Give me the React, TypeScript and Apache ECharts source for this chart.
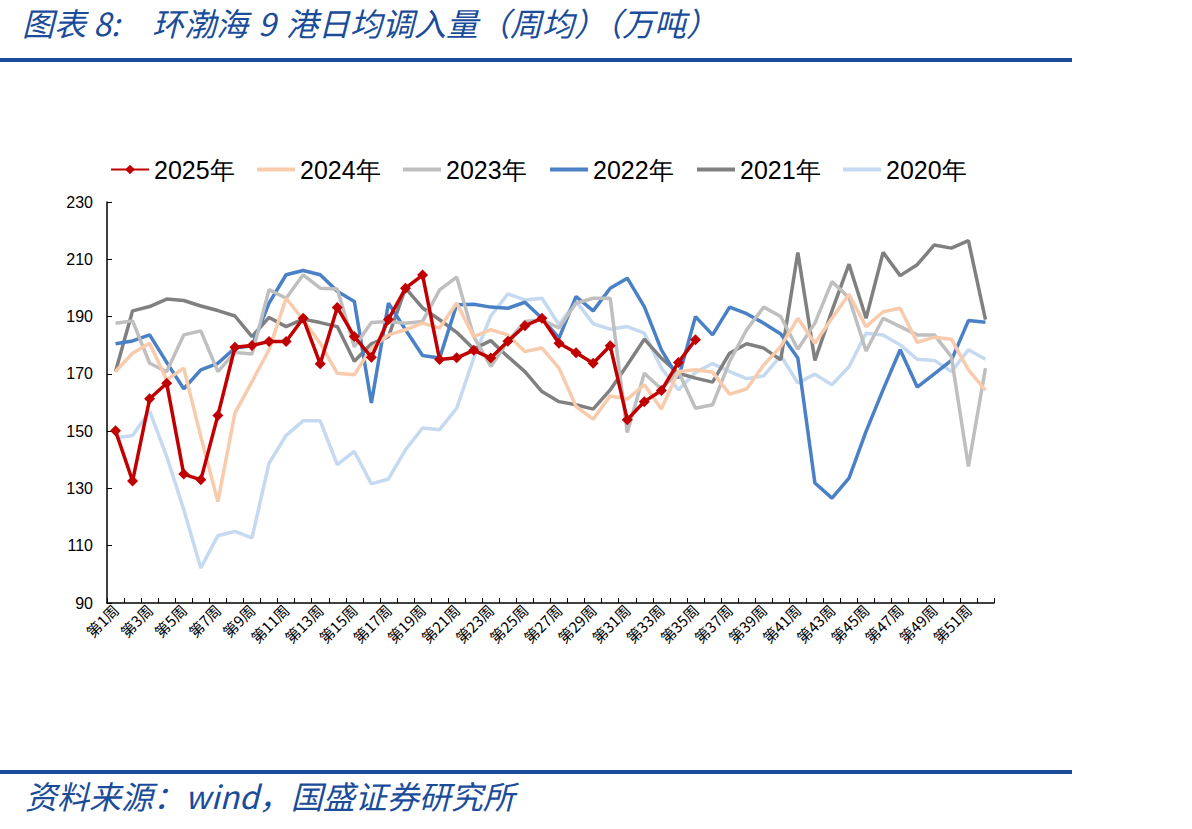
import React, { useEffect, useRef } from "react";
import * as echarts from "echarts";

const weeks: string[] = Array.from({ length: 52 }, (_, i) => `第${i + 1}周`);

const y2025 = [150.1, 132.6, 161.3, 166.7, 135.0, 133.0, 155.5, 179.3, 179.9, 181.3, 181.3, 189.4, 173.5, 193.2, 183.0, 175.8, 189.0, 199.9, 204.5, 175.0, 175.6, 178.2, 175.5, 181.4, 186.8, 189.4, 180.7, 177.4, 173.7, 179.8, 154.0, 160.3, 164.2, 174.0, 181.9];
const y2024 = [170.8, 177.2, 180.7, 167.9, 172.0, 148.1, 125.4, 156.3, 167.3, 178.4, 196.4, 188.9, 180.7, 170.2, 169.7, 179.0, 183.6, 185.4, 187.7, 186.0, 194.7, 183.0, 185.4, 183.6, 177.8, 179.0, 172.0, 158.6, 154.2, 162.3, 161.2, 166.2, 157.7, 170.8, 171.4, 170.6, 162.9, 164.7, 173.1, 179.6, 189.4, 180.7, 189.4, 197.8, 186.5, 191.7, 192.9, 181.0, 182.8, 182.1, 171.4, 164.2];
const y2023 = [187.7, 188.5, 173.7, 170.8, 183.6, 185.0, 170.8, 177.5, 176.9, 199.4, 196.4, 204.6, 199.9, 199.6, 179.5, 187.9, 188.3, 187.7, 188.3, 199.3, 203.8, 183.0, 172.6, 181.3, 188.3, 188.9, 186.0, 194.7, 196.4, 196.4, 149.5, 170.2, 164.7, 170.8, 158.0, 159.2, 174.3, 185.4, 193.3, 190.0, 178.6, 187.7, 202.2, 196.6, 178.0, 189.4, 186.5, 183.6, 183.6, 176.0, 137.7, 172.0];
const y2022 = [180.5, 181.5, 183.6, 174.0, 164.8, 171.4, 173.7, 179.0, 179.8, 194.7, 204.6, 206.1, 204.6, 198.8, 195.3, 159.8, 194.7, 185.4, 176.4, 175.5, 194.1, 194.3, 193.3, 192.9, 195.0, 189.4, 182.5, 197.0, 192.0, 199.9, 203.4, 193.5, 178.4, 168.5, 190.0, 183.6, 193.3, 191.0, 187.7, 183.9, 175.5, 131.9, 126.6, 133.6, 149.9, 164.5, 178.4, 165.4, 170.0, 174.7, 188.6, 188.0];
const y2021 = [170.8, 192.0, 193.5, 196.1, 195.6, 193.7, 192.1, 190.2, 183.0, 189.7, 186.5, 189.1, 187.9, 186.5, 174.4, 180.5, 183.0, 199.9, 193.0, 188.9, 184.5, 178.7, 181.6, 176.0, 170.8, 163.8, 160.3, 159.2, 157.7, 164.4, 173.1, 182.1, 175.5, 170.2, 168.5, 167.1, 177.2, 180.5, 179.0, 174.9, 212.4, 174.7, 192.0, 208.3, 189.4, 212.4, 204.3, 208.1, 215.0, 213.9, 216.5, 188.9];
const y2020 = [147.6, 148.5, 156.9, 141.2, 122.6, 102.2, 113.5, 115.0, 112.7, 138.8, 148.5, 153.6, 153.6, 138.3, 142.9, 131.6, 133.3, 143.5, 151.1, 150.5, 158.0, 175.5, 190.2, 197.9, 195.8, 196.4, 187.1, 195.3, 187.5, 185.6, 186.5, 184.2, 172.0, 164.4, 170.5, 173.6, 170.8, 168.3, 169.3, 176.4, 166.8, 169.9, 166.2, 172.5, 184.2, 183.6, 180.1, 175.1, 174.7, 170.8, 178.4, 175.1];

const yMin = 90;
const yMax = 230;
const yStep = 20;

const names = ["2025年", "2024年", "2023年", "2022年", "2021年", "2020年"];
const colors = ["#C00000", "#F8CBAD", "#BFBFBF", "#4A80C6", "#808080", "#C5D9F0"];
const legendLefts = [110, 257, 403, 550, 697, 843];

const titleText = "{a|图表 8:}{b|环渤海}{c|9}{d|港日均调入量（周均）（万吨）}";
const sourceText = "资料来源：wind，国盛证券研究所";

const BLUE = "#1A4C9A";

export default function App() {
  const ref = useRef<HTMLDivElement>(null);
  useEffect(() => {
    if (!ref.current) return;
    const chart = echarts.init(ref.current, undefined, { renderer: "svg" });
    const dataSets = [y2025, y2024, y2023, y2022, y2021, y2020];
    const series: any[] = names.map((n, i) => ({
      name: n,
      type: "line",
      data: dataSets[i],
      symbol: i === 0 ? "diamond" : "none",
      symbolSize: 11,
      showSymbol: i === 0,
      z: i === 0 ? 10 : 6 - i,
      lineStyle: { color: colors[i], width: 3.5 },
      itemStyle: { color: colors[i] },
      emphasis: { disabled: true },
    }));
    const ordered = [...series].reverse();
    const tFont = { fontSize: 32, fontStyle: "italic", fontFamily: "Noto Sans CJK SC", fill: BLUE, color: BLUE };
    chart.setOption({
      animation: false,
      legend: names.map((n, i) => ({
        data: [n],
        left: legendLefts[i],
        top: 157,
        padding: 0,
        itemWidth: 38,
        itemHeight: i === 0 ? 12 : 4,
        icon: i === 0 ? undefined : "rect",
        textStyle: { fontSize: 25, color: "#000", fontFamily: "Liberation Sans, Arial, sans-serif" },
        selectedMode: false,
      })),
      grid: { left: 107, right: 198, top: 202, bottom: 226, containLabel: false },
      xAxis: {
        type: "category",
        data: weeks,
        boundaryGap: true,
        axisLine: { lineStyle: { color: "#000", width: 1.5 } },
        axisTick: { show: true, inside: true, length: 5, interval: 0, alignWithLabel: false, lineStyle: { color: "#000" } },
        axisLabel: { interval: 1, rotate: 45, fontSize: 15, color: "#000", fontFamily: "Noto Sans CJK SC, sans-serif", margin: 4 },
        splitLine: { show: false },
      },
      yAxis: {
        type: "value",
        min: yMin,
        max: yMax,
        interval: yStep,
        axisLine: { show: true, lineStyle: { color: "#000", width: 1.5 } },
        axisTick: { show: true, inside: true, length: 5, lineStyle: { color: "#000" } },
        axisLabel: { fontSize: 16, color: "#000", fontFamily: "Liberation Sans, sans-serif", margin: 14 },
        splitLine: { show: false },
      },
      graphic: [
        {
          type: "text",
          left: 22,
          top: 6,
          style: {
            text: titleText,
            ...tFont,
            rich: {
              a: { ...tFont, width: 130 },
              b: { ...tFont, width: 106 },
              c: { ...tFont, width: 28 },
              d: { ...tFont },
            },
          },
        },
        { type: "rect", shape: { x: 0, y: 58, width: 1072, height: 4 }, style: { fill: BLUE } },
        { type: "rect", shape: { x: 0, y: 770, width: 1072, height: 4 }, style: { fill: BLUE } },
        { type: "text", left: 25, top: 779, style: { text: sourceText, font: "italic 32px 'Noto Sans CJK SC'", fill: BLUE } },
      ],
      series: ordered,
    });
    return () => chart.dispose();
  }, []);
  return <div ref={ref} style={{ width: 1192, height: 829, position: "absolute", left: 0, top: 0, background: "#fff" }} />;
}
